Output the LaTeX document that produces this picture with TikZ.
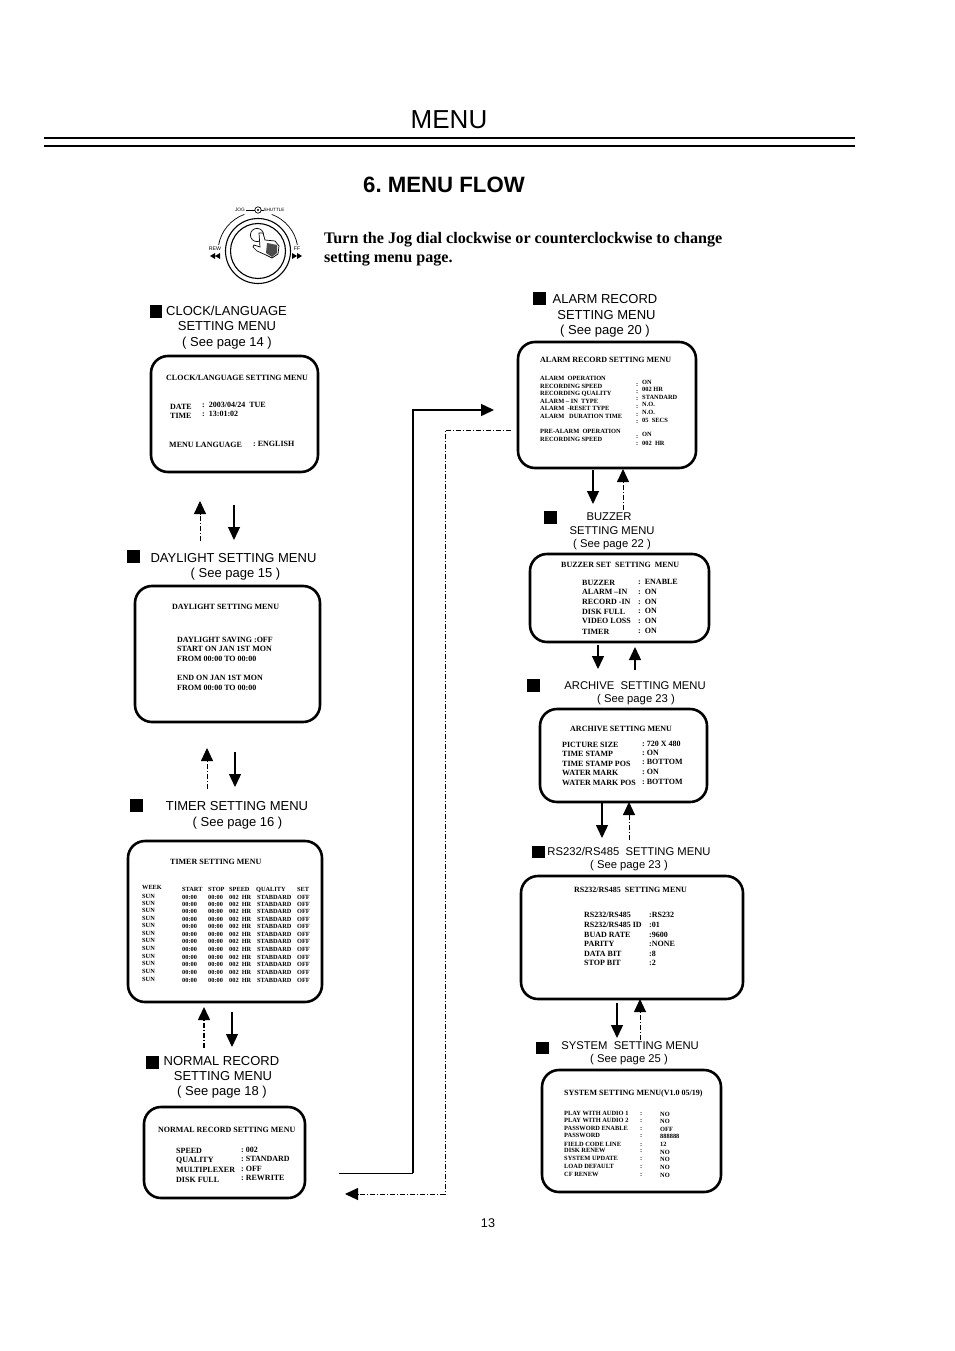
\documentclass[tikz,border=0pt]{standalone}
\usepackage{fontspec}
\setmainfont{Liberation Serif}
\setsansfont{Liberation Sans}
\usetikzlibrary{arrows.meta}

\tikzset{
  screen/.style={draw, line width=2.6pt, rounded corners=17pt, inner sep=0pt},
  scrtxt/.style={anchor=west, inner sep=0pt, text height=6.6pt, text depth=0pt, font=\fontsize{8}{9}\selectfont\bfseries},
  alarmtxt/.style={scrtxt, font=\fontsize{6.4}{8}\selectfont\bfseries},
  timertxt/.style={scrtxt, font=\fontsize{6.3}{8}\selectfont\bfseries},
  systxt/.style={scrtxt, font=\fontsize{6.4}{8}\selectfont\bfseries},
  lbl/.style={inner sep=0pt, text height=9.3pt, text depth=0pt, font=\fontsize{13}{16}\selectfont\sffamily},
  lbls/.style={lbl, text height=8pt, font=\fontsize{11.25}{14}\selectfont\sffamily},
  blk/.style={draw, fill=black, inner sep=0pt, minimum size=11.4pt},
  solidarr/.style={->, line width=1.3pt},
  dasharr/.style={->, line width=0.9pt, dash pattern=on 5pt off 2pt on 1pt off 2pt},
}

\begin{document}
\frenchspacing
\begin{tikzpicture}[x=1pt, y=-1pt, >={Triangle[length=13pt,width=12pt]}]

  \useasboundingbox (0,0) rectangle (954,1351);

  % Page heading
  \node[font=\fontsize{26}{30}\selectfont\sffamily] (pagetitle) at (449,119.5) {MENU};
  \coordinate (ruleal) at (44,138);
  \coordinate (ruleaR) at (855,138);
  \coordinate (rulebl) at (44,146);
  \coordinate (rulebR) at (855,146);
  \draw[line width=1.8pt] (ruleal) -- (ruleaR);
  \draw[line width=1.5pt] (rulebl) -- (rulebR);
  \node[font=\fontsize{22.2}{28}\selectfont\sffamily\bfseries] (flowtitle) at (444,184.5) {6. MENU FLOW};

  % Jog dial
  \draw[line width=1.1pt] (258,251) circle (32.5);
  \draw[line width=1.1pt] (258,251) circle (27.5);
  \draw[line width=0.7pt] (244.3,214.4) .. controls (230.9,219.3) and (221.1,230.9) .. (218.6,245);
  \draw[line width=0.7pt] (271.7,214.4) .. controls (285.1,219.3) and (294.9,230.9) .. (297.4,245);
  \draw[line width=0.7pt] (258,210) circle (3.2);
  \fill (258,210) circle (1.2);
  \draw[line width=0.7pt] (246,210) -- (254.8,210) (261.2,210) -- (264,210);
  \node[font=\fontsize{4.8}{6}\selectfont\sffamily, inner sep=0pt] (joglbl) at (240,210) {JOG};
  \node[font=\fontsize{4.6}{6}\selectfont\sffamily, inner sep=0pt] (shuttlelbl) at (274,210) {SHUTTLE};
  \node[font=\fontsize{5.2}{7}\selectfont\sffamily, inner sep=0pt] (rewlbl) at (215,249) {REW};
  \node[font=\fontsize{5.2}{7}\selectfont\sffamily, inner sep=0pt] (fflbl) at (297,249) {FF};
  \fill (210,256) -- (215,253) -- (215,259) -- cycle (215,256) -- (220,253) -- (220,259) -- cycle;
  \fill (302,256) -- (297,253) -- (297,259) -- cycle (297,256) -- (292,253) -- (292,259) -- cycle;
  \draw[line width=0.7pt] (257,235) circle (6.6);
  \draw[line width=0.7pt, fill=white] (259,233) -- (263,233) -- (265,240) -- (275,241) -- (279,246) -- (278,254) -- (272,258) -- (266,255) -- (257,251) -- (253,247) -- (254,245) -- (260,247) -- cycle;
  \fill[black!70] (267,243) -- (277,245) -- (277,253) -- (272,257) -- (266,253) -- cycle;

  \node[anchor=west, inner sep=0pt, font=\fontsize{16.1}{19}\selectfont\bfseries] (introa) at (324,240) {Turn the Jog dial clockwise or counterclockwise to change};
  \node[anchor=west, inner sep=0pt, font=\fontsize{16.1}{19}\selectfont\bfseries] (introb) at (324,259) {setting menu page.};

  % Left column screens
  \node[screen, minimum width=167pt, minimum height=116pt] (clock) at (234.5,414) {};
  \node[screen, minimum width=185pt, minimum height=136pt] (daylight) at (227.5,654) {};
  \node[screen, minimum width=194pt, minimum height=161pt] (timer) at (225,921.5) {};
  \node[screen, minimum width=161pt, minimum height=91pt] (normal) at (224.5,1152.5) {};

  % Right column screens
  \node[screen, minimum width=178pt, minimum height=126pt] (alarm) at (607,405) {};
  \node[screen, minimum width=179pt, minimum height=88pt] (buzzer) at (619.5,598) {};
  \node[screen, minimum width=167pt, minimum height=93pt] (archive) at (623.5,755.5) {};
  \node[screen, minimum width=222pt, minimum height=123pt] (rs) at (632,937.5) {};
  \node[screen, minimum width=179pt, minimum height=122pt] (system) at (631.5,1131) {};

  % Captions
  \node[blk] (clocksq) at (155.5,311) {};
  \node[lbl, anchor=west] (clockla) at (166,310.5) {CLOCK/LANGUAGE};
  \node[lbl] (clocklb) at (227,325.5) {SETTING MENU};
  \node[lbl] (clocklc) at (227,341.5) {( See page 14 )};
  \node[blk] (daysq) at (133,556) {};
  \node[lbl] (dayla) at (233.5,557.5) {DAYLIGHT SETTING MENU};
  \node[lbl] (daylb) at (235.5,573) {( See page 15 )};
  \node[blk] (timersq) at (136,805) {};
  \node[lbl] (timerla) at (237,805.5) {TIMER SETTING MENU};
  \node[lbl] (timerlb) at (237.5,821.5) {( See page 16 )};
  \node[blk] (normalsq) at (152,1062) {};
  \node[lbl] (normalla) at (221.5,1060.5) {NORMAL RECORD};
  \node[lbl] (normallb) at (223,1075.5) {SETTING MENU};
  \node[lbl] (normallc) at (222,1091) {( See page 18 )};
  \node[blk] (alarmsq) at (539,298) {};
  \node[lbl] (alarmla) at (605,298.5) {ALARM RECORD};
  \node[lbl] (alarmlb) at (606.5,314.5) {SETTING MENU};
  \node[lbl] (alarmlc) at (605,330) {( See page 20 )};
  \node[blk] (buzzersq) at (550,517) {};
  \node[lbls] (buzzerla) at (609,516.5) {BUZZER};
  \node[lbls] (buzzerlb) at (612,530) {SETTING MENU};
  \node[lbls] (buzzerlc) at (612,543.5) {( See page 22 )};
  \node[blk] (archivesq) at (533,685) {};
  \node[lbls] (archivela) at (635,685.5) {ARCHIVE\ \ SETTING MENU};
  \node[lbls] (archivelb) at (636,698.5) {( See page 23 )};
  \node[blk] (rssq) at (538,851.5) {};
  \node[lbls] (rsla) at (629,851.5) {RS232/RS485\ \ SETTING MENU};
  \node[lbls] (rslb) at (629,864.5) {( See page 23 )};
  \node[blk] (systemsq) at (542,1047.5) {};
  \node[lbls] (systemla) at (630,1045.5) {SYSTEM\ \ SETTING MENU};
  \node[lbls] (systemlb) at (629,1058.5) {( See page 25 )};

  % Clock screen text
  \node[scrtxt] (clockt) at (166,377) {CLOCK/LANGUAGE SETTING MENU};
  \node[scrtxt] (clockdate) at (170,406) {DATE};
  \node[scrtxt] (clockdatev) at (202,404) {:\ \ 2003/04/24\ \ TUE};
  \node[scrtxt] (clocktime) at (170,415) {TIME};
  \node[scrtxt] (clocktimev) at (202,413) {:\ \ 13:01:02};
  \node[scrtxt] (clocklang) at (169,444) {MENU LANGUAGE};
  \node[scrtxt] (clocklangv) at (253,443) {:\ ENGLISH};

  % Daylight screen text
  \node[scrtxt] (dayt) at (172,606) {DAYLIGHT SETTING MENU};
  \foreach \ty/\tx [count=\i] in {639/DAYLIGHT SAVING :OFF, 648/START ON JAN 1ST MON, 658/FROM 00:00 TO 00:00,
      677/END ON JAN 1ST MON, 687/FROM 00:00 TO 00:00}
    \node[scrtxt] (day\i) at (177,\ty) {\tx};

  % Timer screen text
  \node[scrtxt] (timert) at (170,861) {TIMER SETTING MENU};
  \node[timertxt] (timerhw) at (142,886.5) {WEEK};
  \foreach \cx/\tx [count=\i] in {182/START, 208/STOP, 229/SPEED, 256/QUALITY, 297/SET}
    \node[timertxt] (timerh\i) at (\cx,888) {\tx};
  \foreach \ty [count=\i] in {895,902,909,917,924,932,939,947,955,962,970,978} {
    \node[timertxt] (timerw\i) at (142,\ty) {SUN};
    \node[timertxt] (timera\i) at (182,\ty+1.5) {00:00};
    \node[timertxt] (timerb\i) at (208,\ty+1.5) {00:00};
    \node[timertxt] (timerc\i) at (229,\ty+1.5) {002\ \ HR};
    \node[timertxt] (timerd\i) at (257,\ty+1.5) {STABDARD};
    \node[timertxt] (timere\i) at (297,\ty+1.5) {OFF};
  }

  % Normal record screen text
  \node[scrtxt] (normalt) at (158,1129) {NORMAL RECORD SETTING MENU};
  \foreach \ty/\tx [count=\i] in {1150/SPEED, 1159/QUALITY, 1169/MULTIPLEXER, 1179/DISK FULL}
    \node[scrtxt] (normall\i) at (176,\ty) {\tx};
  \foreach \ty/\tx [count=\i] in {1149/: 002, 1158/: STANDARD, 1168/: OFF, 1177/: REWRITE}
    \node[scrtxt] (normalv\i) at (241,\ty) {\tx};

  % Alarm screen text
  \node[scrtxt] (alarmt) at (540,359) {ALARM RECORD SETTING MENU};
  \foreach \ty/\tx [count=\i] in {377/ALARM\ \ OPERATION, 385/RECORDING SPEED, 392/RECORDING QUALITY, 400/ALARM – IN\ \ TYPE,
      407/ALARM\ \ -RESET TYPE, 415/ALARM\ \ \ DURATION TIME, 430/PRE-ALARM\ \ OPERATION, 438/RECORDING SPEED}
    \node[alarmtxt] (alarml\i) at (540,\ty) {\tx};
  \foreach \ty [count=\i] in {383,390,397,405,413,420,435,442}
    \node[alarmtxt] (alarmc\i) at (636,\ty) {:};
  \foreach \ty/\tx [count=\i] in {381/ON, 388/002 HR, 396/STANDARD, 403/N.O., 411/N.O., 419/05\ \ SECS, 433/ON, 442/002\ \ HR}
    \node[alarmtxt] (alarmv\i) at (642,\ty) {\tx};

  % Buzzer screen text
  \node[scrtxt] (buzzert) at (561,564) {BUZZER SET\ \ SETTING\ \ MENU};
  \foreach \ty/\tx [count=\i] in {582/BUZZER, 591/ALARM –IN, 601/RECORD -IN, 611/DISK FULL, 620/VIDEO LOSS, 631/TIMER}
    \node[scrtxt] (buzzerl\i) at (582,\ty) {\tx};
  \foreach \ty/\tx [count=\i] in {581/:\ \ ENABLE, 591/:\ \ ON, 601/:\ \ ON, 610/:\ \ ON, 620/:\ \ ON, 630/:\ \ ON}
    \node[scrtxt] (buzzerv\i) at (638,\ty) {\tx};

  % Archive screen text
  \node[scrtxt] (archivet) at (570,728) {ARCHIVE SETTING MENU};
  \foreach \ty/\tx [count=\i] in {744/PICTURE SIZE, 753/TIME STAMP, 763/TIME STAMP POS, 772/WATER MARK, 782/WATER MARK POS}
    \node[scrtxt] (archivel\i) at (562,\ty) {\tx};
  \foreach \ty/\tx [count=\i] in {743/: 720 X 480, 752/: ON, 761/: BOTTOM, 771/: ON, 781/: BOTTOM}
    \node[scrtxt] (archivev\i) at (642,\ty) {\tx};

  % RS232 screen text
  \node[scrtxt] (rst) at (574,889) {RS232/RS485\ \ SETTING MENU};
  \foreach \ty/\tx [count=\i] in {914/{RS232/RS485}, 924/{RS232/RS485 ID}, 934/BUAD RATE, 943/PARITY, 953/DATA BIT, 962/STOP BIT}
    \node[scrtxt] (rsl\i) at (584,\ty) {\tx};
  \foreach \ty/\tx [count=\i] in {914/:RS232, 924/:01, 934/:9600, 943/:NONE, 953/:8, 962/:2}
    \node[scrtxt] (rsv\i) at (649,\ty) {\tx};

  % System screen text
  \node[scrtxt] (systemt) at (564,1092) {SYSTEM SETTING MENU(V1.0 05/19)};
  \foreach \ty/\tx [count=\i] in {1112/PLAY WITH AUDIO 1, 1119/PLAY WITH AUDIO 2, 1127/PASSWORD ENABLE, 1134/PASSWORD,
      1143/FIELD CODE LINE, 1149/DISK RENEW, 1157/SYSTEM UPDATE, 1165/LOAD DEFAULT, 1173/CF RENEW} {
    \node[systxt] (systeml\i) at (564,\ty) {\tx};
    \node[systxt] (systemc\i) at (640,\ty) {:};
  }
  \foreach \ty/\tx [count=\i] in {1113/NO, 1120/NO, 1128/OFF, 1135/888888, 1143/12, 1151/NO, 1158/NO, 1166/NO, 1174/NO}
    \node[systxt] (systemv\i) at (660,\ty) {\tx};

  % Connections between screens, left column
  \coordinate (cda) at (200,541);  \coordinate (cdb) at (200,501);
  \coordinate (dca) at (234,505);  \coordinate (dcb) at (234,540);
  \coordinate (dta) at (207,789);  \coordinate (dtb) at (207,748);
  \coordinate (tda) at (235,752);  \coordinate (tdb) at (235,787);
  \coordinate (tna) at (204,1048); \coordinate (tnb) at (204,1007);
  \coordinate (nta) at (232,1012); \coordinate (ntb) at (232,1047);
  \draw[dasharr] (cda) -- (cdb);
  \draw[solidarr] (dca) -- (dcb);
  \draw[dasharr] (dta) -- (dtb);
  \draw[solidarr] (tda) -- (tdb);
  \draw[dasharr, line width=1.6pt] (tna) -- (tnb);
  \draw[solidarr] (nta) -- (ntb);

  % Connections between screens, right column
  \coordinate (aba) at (593,470);  \coordinate (abb) at (593,504);
  \coordinate (baa) at (623,510);  \coordinate (bab) at (623,469);
  \coordinate (bca) at (598,645);  \coordinate (bcb) at (598,669);
  \coordinate (cba) at (635,670);  \coordinate (cbb) at (635,647);
  \coordinate (cra) at (602,803);  \coordinate (crb) at (602,838);
  \coordinate (rca) at (629,840);  \coordinate (rcb) at (629,802);
  \coordinate (rsa) at (617,1003); \coordinate (rsb) at (617,1038);
  \coordinate (sra) at (640,1040); \coordinate (srb) at (640,999);
  \draw[solidarr] (aba) -- (abb);
  \draw[dasharr] (baa) -- (bab);
  \draw[solidarr] (bca) -- (bcb);
  \draw[solidarr] (cba) -- (cbb);
  \draw[solidarr] (cra) -- (crb);
  \draw[dasharr] (rca) -- (rcb);
  \draw[solidarr] (rsa) -- (rsb);
  \draw[dasharr] (sra) -- (srb);

  % Long links between the two columns
  \coordinate (nla) at (339,1173);
  \coordinate (nlb) at (413,1173);
  \coordinate (nlc) at (413,410);
  \coordinate (nld) at (494,410);
  \draw[line width=0.9pt] (nla) -- (nlb);
  \draw[->, line width=1.5pt] (nlb) -- (nlc) -- (nld);
  \coordinate (ala) at (511,430);
  \coordinate (alb) at (445,430);
  \coordinate (alc) at (445,1194);
  \coordinate (ald) at (345,1194);
  \draw[dasharr] (ala) -- (alb) -- (alc) -- (ald);

  \node[font=\fontsize{12.6}{15}\selectfont\sffamily] (pagenum) at (488,1223.5) {13};

\end{tikzpicture}
\end{document}
